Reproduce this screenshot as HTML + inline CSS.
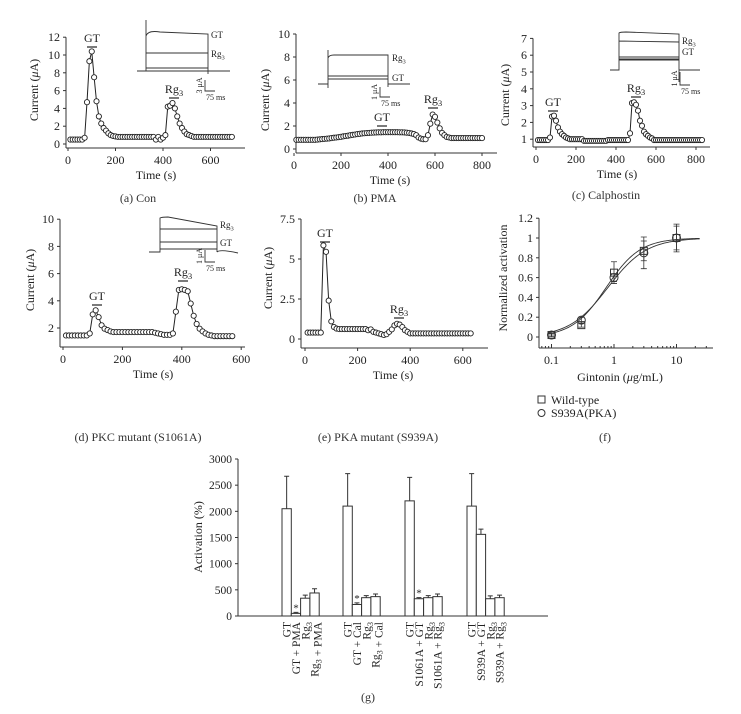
<!DOCTYPE html>
<html><head><meta charset="utf-8"><style>
body{margin:0;background:#fff}
svg, svg text{font-family:"Liberation Serif","Times New Roman",serif}
</style></head><body>
<svg id="fig" width="741" height="709" viewBox="0 0 741 709" font-family="Liberation Serif, Times New Roman, serif" xmlns="http://www.w3.org/2000/svg"></svg>
<script>
// ---- data ----
const aValues=[0.5,0.5,0.5,0.5,0.5,0.5,0.7,4.7,9.3,10.4,7.5,4.8,3.1,2.3,1.8,1.5,1.2,1.0,0.9,0.85,0.8,0.8,0.8,0.8,0.8,0.8,0.8,0.8,0.8,0.8,0.8,0.8,0.8,0.8,0.8,0.8,0.5,0.8,0.5,0.7,1.0,4.2,4.3,4.6,4.0,3.1,2.3,1.8,1.4,1.1,1.0,0.9,0.8,0.8,0.8,0.8,0.8,0.8,0.8,0.8,0.8,0.8,0.8,0.8,0.8,0.8,0.8,0.8,0.8];
const bValues=[0.8,0.8,0.8,0.8,0.8,0.8,0.8,0.8,0.8,0.82,0.84,0.86,0.88,0.9,0.92,0.95,0.98,1.0,1.03,1.06,1.1,1.13,1.16,1.2,1.23,1.26,1.3,1.32,1.35,1.37,1.39,1.4,1.42,1.43,1.44,1.45,1.45,1.46,1.46,1.46,1.46,1.46,1.46,1.46,1.45,1.45,1.44,1.42,1.4,1.35,1.3,1.2,1.0,0.9,0.85,0.85,1.2,2.2,3.0,2.8,2.3,1.8,1.4,1.2,1.05,1.0,0.95,0.95,0.95,0.95,0.95,0.95,0.95,0.95,0.95,0.95,0.95,0.95,0.95,0.95];
const cValues=[0.95,0.95,0.95,0.95,0.95,0.95,1.1,2.35,2.4,2.1,1.7,1.45,1.3,1.2,1.1,1.05,1.0,1.0,1.0,1.0,1.0,1.0,1.0,0.9,0.9,0.9,0.9,0.9,0.9,0.9,0.9,0.9,0.9,0.9,0.9,0.95,0.95,0.95,0.95,0.95,0.95,0.95,0.95,0.95,0.95,0.95,1.35,3.15,3.2,3.05,2.7,2.1,1.8,1.45,1.3,1.2,1.1,1.05,0.95,0.95,0.95,0.95,0.95,0.95,0.95,0.95,0.95,0.95,0.95,0.95,0.95,0.95,0.95,0.95,0.95,0.95,0.95,0.95,0.95,0.95,0.95,0.95,0.95];
const dValues=[1.45,1.45,1.45,1.45,1.45,1.45,1.45,1.45,1.6,3.0,3.3,2.8,2.2,1.95,1.85,1.75,1.7,1.7,1.7,1.7,1.7,1.7,1.7,1.7,1.7,1.7,1.7,1.7,1.7,1.7,1.65,1.6,1.55,1.5,1.5,1.5,1.6,3.2,4.8,4.85,4.8,4.7,3.8,2.9,2.3,1.95,1.75,1.6,1.5,1.45,1.4,1.4,1.4,1.4,1.4,1.4,1.4];
const eValues=[0.4,0.4,0.4,0.4,0.4,0.4,5.85,5.45,2.4,1.1,0.75,0.65,0.62,0.62,0.62,0.62,0.62,0.62,0.62,0.62,0.62,0.62,0.62,0.55,0.6,0.45,0.4,0.35,0.3,0.25,0.3,0.45,0.6,0.85,0.95,0.9,0.75,0.55,0.45,0.35,0.35,0.35,0.35,0.35,0.35,0.35,0.35,0.35,0.35,0.35,0.35,0.35,0.35,0.35,0.35,0.35,0.35,0.35,0.35,0.35,0.35,0.35,0.35];
const fDoses=[0.1,0.3,1,3,10];
const fWild=[0.02,0.12,0.65,0.87,1.0];
const fWildErr=[0.01,0.02,0.11,0.1,0.12];
const fMut=[0.02,0.17,0.6,0.85,1.0];
const fMutErr=[0.02,0.03,0.04,0.16,0.14];
const fWildFit=[0.75,1.6]; // EC50, Hill n
const fMutFit=[0.8,1.4];
const gLabels=[["GT","GT + PMA","Rg3","Rg3 + PMA"],["GT","GT + Cal","Rg3","Rg3 + Cal"],["GT","S1061A + GT","Rg3","S1061A + Rg3"],["GT","S939A + GT","Rg3","S939A + Rg3"]];
const gValues=[[2050,50,340,440],[2100,220,350,370],[2200,330,350,370],[2100,1560,330,350]];
const gErrors=[[620,20,60,80],[620,30,40,50],[450,20,40,50],[620,100,55,50]];
const gStars=[[false,true,false,false],[false,true,false,false],[false,true,false,false],[false,false,false,false]];
const gTicks=[0,500,1000,1500,2000,2500,3000];

const NS="http://www.w3.org/2000/svg";
const FF='Liberation Serif, Times New Roman, serif';
const svg=document.getElementById('fig');
function mk(tag,attrs,parent,text){const e=document.createElementNS(NS,tag);for(const k in attrs)e.setAttribute(k,attrs[k]);if(tag==='text')e.setAttribute('font-family',FF);if(text!==undefined)e.textContent=text;(parent||svg).appendChild(e);return e;}
function rgText(parent,x,y,str,size,anchor,transform){
  const t=mk('text',{x:x,y:y,'font-size':size,'text-anchor':anchor||'start',fill:'#222'},parent);
  if(transform)t.setAttribute('transform',transform);
  const parts=str.split('Rg3');
  parts.forEach((p,i)=>{ if(p) mk('tspan',{},t,p); if(i<parts.length-1){mk('tspan',{},t,'Rg');mk('tspan',{'font-size':size*0.72,dy:size*0.25},t,'3');mk('tspan',{dy:-size*0.25},t,'');}});
  return t;
}
function panel(name,cfg){
  const g=mk('g',{},svg);
  
  
  const X=t=>cfg.x0+t*cfg.xs, Y=v=>cfg.y0-v*cfg.ys;
  mk('line',{x1:cfg.ax,y1:cfg.bottom,x2:cfg.xEnd,y2:cfg.bottom,stroke:'#333','stroke-width':1},g);
  mk('line',{x1:cfg.ax,y1:cfg.bottom,x2:cfg.ax,y2:Y(cfg.yt[cfg.yt.length-1]),stroke:'#333','stroke-width':1},g);
  cfg.xt.forEach(t=>{mk('line',{x1:X(t),y1:cfg.bottom,x2:X(t),y2:cfg.bottom+3,stroke:'#333'},g);
    const l=mk('text',{x:X(t),y:cfg.bottom+16,'font-size':12,'text-anchor':'middle',fill:'#222'},g,String(t));
    });
  cfg.yt.forEach(v=>{mk('line',{x1:cfg.ax,y1:Y(v),x2:cfg.ax-3,y2:Y(v),stroke:'#333'},g);
    const l=mk('text',{x:cfg.ax-6,y:Y(v)+4,'font-size':12,'text-anchor':'end',fill:'#222'},g,String(v));
    });
  const xl=mk('text',{x:cfg.xlx,y:cfg.bottom+31,'font-size':12,'text-anchor':'middle',fill:'#222'},g,'Time (s)');
  
  const yl=mk('text',{x:0,y:0,'font-size':12,'text-anchor':'middle',fill:'#222',transform:`translate(${cfg.ylx},${cfg.yly}) rotate(-90)`},g);
  
  mk('tspan',{},yl,'Current (');mk('tspan',{'font-style':'italic'},yl,'\u03bc');mk('tspan',{},yl,'A)');
  const vals=cfg.vals;
  const pts=vals.map((v,i)=>[X(cfg.t0+i*cfg.dt),Y(v)]);
  const line=mk('polyline',{points:pts.map(p=>p.join(',')).join(' '),fill:'none',stroke:'#222','stroke-width':1},g);
  
  pts.forEach(p=>{const c=mk('circle',{cx:p[0],cy:p[1],r:2.6,fill:'#fff',stroke:'#222','stroke-width':0.9},g);
    });
  cfg.ann.forEach(a=>{const t=rgText(g,a[0],a[1],a[2],12,'middle');
    mk('line',{x1:a[0]-5,y1:a[1]+5,x2:a[0]+5,y2:a[1]+5,stroke:'#222','stroke-width':1.2},g);});
  const cap=mk('text',{x:cfg.capx,y:cfg.capy,'font-size':12,'text-anchor':'middle',fill:'#333'},g,cfg.cap);
  
  return g;
}
function inset(name,p){
  const g=mk('g',{fill:'none',stroke:'#333','stroke-width':0.9},svg);
  
  mk('path',{d:p.d},g);
  p.labels.forEach(l=>{const t=rgText(g,l[0],l[1],l[2],9,'start');t.setAttribute('stroke','none');});
  mk('path',{d:`M${p.sb[0]},${p.sb[1]} v${p.sb[2]} h10`},g);
  mk('text',{x:0,y:0,'font-size':8,'text-anchor':'middle',fill:'#222',stroke:'none',transform:`translate(${p.sb[0]-3},${p.sb[1]+p.sb[2]/2}) rotate(-90)`},g,p.sblab);
  mk('text',{x:p.sb[0]+1,y:p.sb[1]+p.sb[2]+9,'font-size':8,fill:'#222',stroke:'none'},g,'75 ms');
}

// (a)
panel('panel-a-con',{x0:68,xs:0.2375,y0:144,ys:8.9,ax:66,bottom:148,xEnd:245,xt:[0,200,400,600],yt:[0,2,4,6,8,10,12],t0:10,dt:10,vals:aValues,xlx:156,ylx:38,yly:90,ann:[[92,42,'GT'],[174,93,'Rg3']],cap:'(a)  Con',capx:138,capy:202});
inset('inset-a',{d:'M137,71 H146 V20 V71 M146,36 Q148,30 160,32 L208,34 V74 M146,53 H208 M146,68 H208 M146,71 H208 M208,71 H230',labels:[[211,38,'GT'],[211,57,'Rg3']],sb:[205,80,11],sblab:'3 \u03bcA'});
// (b)
panel('panel-b-pma',{x0:294,xs:0.235,y0:149,ys:11.5,ax:296,bottom:153,xEnd:497,xt:[0,200,400,600,800],yt:[0,2,4,6,8,10],t0:10,dt:10,vals:bValues,xlx:390,ylx:269,yly:100,ann:[[382,121,'GT'],[433,103,'Rg3']],cap:'(b)  PMA',capx:375,capy:202});
inset('inset-b',{d:'M318,84 H328 V50 V88 M328,58 Q329,55 334,55 H388 V87 M328,76 H388 M328,79 H388 M388,84 H410',labels:[[392,61,'Rg3'],[392,81,'GT']],sb:[380,87,10],sblab:'1 \u03bcA'});
// (c)
panel('panel-c-calphostin',{x0:536,xs:0.2,y0:156,ys:16.8,ax:533,bottom:147,xEnd:710,xt:[0,200,400,600,800],yt:[1,2,3,4,5,6,7],t0:10,dt:10,vals:cValues,xlx:617,ylx:509,yly:95,ann:[[553,106,'GT'],[636,92,'Rg3']],cap:'(c)  Calphostin',capx:606,capy:199});
inset('inset-c',{d:'M610,70 H619 V56 V33 Q620,32 626,32 L679,34 V82 M619,41 L679,42 M619,57 H679 M619,59 H679 M619,60 H679 M679,70 H700',labels:[[682,44,'Rg3'],[682,55,'GT']],sb:[680,72,13],sblab:'1 \u03bcA'});
// (d)
panel('panel-d-pkc-mutant',{x0:63,xs:0.297,y0:355.2,ys:13.6,ax:60,bottom:347,xEnd:245,xt:[0,200,400,600],yt:[2,4,6,8,10],t0:10,dt:10,vals:dValues,xlx:153,ylx:34,yly:280,ann:[[97,300,'GT'],[183,276,'Rg3']],cap:'(d)  PKC mutant (S1061A)',capx:138,capy:441});
inset('inset-d',{d:'M149,252 H160 V218 Q162,217 168,217 L217,226 V252 M160,229 H217 M160,242 H217 M160,249 H217 M217,252 Q220,249 238,253',labels:[[220,228,'Rg3'],[220,246,'GT']],sb:[205,250,12],sblab:'1 \u03bcA'});
// (e)
panel('panel-e-pka-mutant',{x0:305,xs:0.263,y0:339,ys:16,ax:301,bottom:348,xEnd:488,xt:[0,200,400,600],yt:[0,2.5,5,7.5],t0:10,dt:10,vals:eValues,xlx:393,ylx:272,yly:278,ann:[[325,237,'GT'],[399,313,'Rg3']],cap:'(e)  PKA mutant (S939A)',capx:378,capy:441});

// (f)
(function(){
  const g=mk('g',{},svg);
  
  const X=d=>614+Math.log10(d)*62.5, Y=v=>337-v*99;
  mk('line',{x1:539,y1:348,x2:713,y2:348,stroke:'#333'},g);
  mk('line',{x1:539,y1:348,x2:539,y2:Y(1.2),stroke:'#333'},g);
  [0,0.2,0.4,0.6,0.8,1,1.2].forEach(v=>{mk('line',{x1:539,y1:Y(v),x2:536,y2:Y(v),stroke:'#333'},g);
    const l=mk('text',{x:533,y:Y(v)+4,'font-size':12,'text-anchor':'end',fill:'#222'},g,String(v));});
  for(let e=-2;e<=1;e++)for(let k=1;k<10;k++){const d=k*Math.pow(10,e);const x=X(d);if(x<539||x>713)continue;
    mk('line',{x1:x,y1:348,x2:x,y2:348-(k===1?4:2),stroke:'#333'},g);}
  [0.1,1,10].forEach(d=>{const l=mk('text',{x:X(d),y:364,'font-size':12,'text-anchor':'middle',fill:'#222'},g,String(d));});
  const xt=mk('text',{x:620,y:381,'font-size':12,'text-anchor':'middle',fill:'#222'},g);
  
  mk('tspan',{},xt,'Gintonin (');mk('tspan',{'font-style':'italic'},xt,'\u03bc');mk('tspan',{},xt,'g/mL)');
  const yt=mk('text',{x:0,y:0,'font-size':12,'text-anchor':'middle',fill:'#222',transform:'translate(507,278) rotate(-90)'},g,'Normalized activation');
  
  [fWildFit,fMutFit].forEach(fit=>{let pts=[];for(let i=0;i<=120;i++){const d=Math.pow(10,-1.05+i*(2.42/120));pts.push(X(d)+','+Y(1/(1+Math.pow(fit[0]/d,fit[1]))));}
    const c=mk('polyline',{points:pts.join(' '),fill:'none',stroke:'#333','stroke-width':0.9},g);});
  fDoses.forEach((d,i)=>{
    [[fWild[i],fWildErr[i]],[fMut[i],fMutErr[i]]].forEach(([v,e])=>{const x=X(d);
      mk('path',{d:`M${x},${Y(v+e)} V${Y(v-e)} M${x-3},${Y(v+e)} h6 M${x-3},${Y(v-e)} h6`,stroke:'#333','stroke-width':0.8,fill:'none'},g);});
    const s=mk('rect',{x:X(d)-3.5,y:Y(fWild[i])-3.5,width:7,height:7,fill:'none',stroke:'#333'},g);
    const c=mk('circle',{cx:X(d),cy:Y(fMut[i]),r:4,fill:'none',stroke:'#333'},g);
  });
  const l1=mk('g',{},g);
  mk('rect',{x:538,y:396,width:7,height:7,fill:'none',stroke:'#333'},l1);mk('text',{x:551,y:404,'font-size':12,fill:'#222'},l1,'Wild-type');
  const l2=mk('g',{},g);
  mk('circle',{cx:541.5,cy:413,r:3.5,fill:'none',stroke:'#333'},l2);mk('text',{x:551,y:417,'font-size':12,fill:'#222'},l2,'S939A(PKA)');
  const cap=mk('text',{x:605,y:441,'font-size':12,'text-anchor':'middle',fill:'#333'},g,'(f)');
})();

// (g)
(function(){
  const g=mk('g',{},svg);
  
  const Y=v=>616-v*(157/3000);
  mk('line',{x1:238,y1:616,x2:548,y2:616,stroke:'#333'},g);
  mk('line',{x1:238,y1:616,x2:238,y2:Y(3000),stroke:'#333'},g);
  gTicks.forEach(v=>{mk('line',{x1:238,y1:Y(v),x2:235,y2:Y(v),stroke:'#333'},g);
    const l=mk('text',{x:232,y:Y(v)+4,'font-size':11.5,'text-anchor':'end',fill:'#222'},g,String(v));});
  const yt=mk('text',{x:0,y:0,'font-size':12,'text-anchor':'middle',fill:'#222',transform:'translate(202,537) rotate(-90)'},g,'Activation (%)');
  
  const groupStart=[282,343,405,467], bw=9.3;
  gValues.forEach((grp,gi)=>grp.forEach((v,bi)=>{
    const x=groupStart[gi]+bi*bw, e=gErrors[gi][bi];
    mk('path',{d:`M${x+bw/2},${Y(v)} V${Y(v+e)} M${x+bw/2-2.5},${Y(v+e)} h5`,stroke:'#333','stroke-width':1,fill:'none'},g);
    const r=mk('rect',{x:x,y:Y(v),width:bw,height:616-Y(v),fill:'#fff',stroke:'#333','stroke-width':1},g);
    
    if(gStars[gi][bi])mk('text',{x:x+bw/2,y:Y(v+e)-1,'font-size':11,'text-anchor':'middle',fill:'#222'},g,'*');
    const t=rgText(g,x+bw/2+4,622,gLabels[gi][bi],11.5,'end',`rotate(-90 ${x+bw/2+4} 622)`);
    
  }));
  const cap=mk('text',{x:368,y:701,'font-size':12,'text-anchor':'middle',fill:'#333'},g,'(g)');
})();
</script>
</body></html>
